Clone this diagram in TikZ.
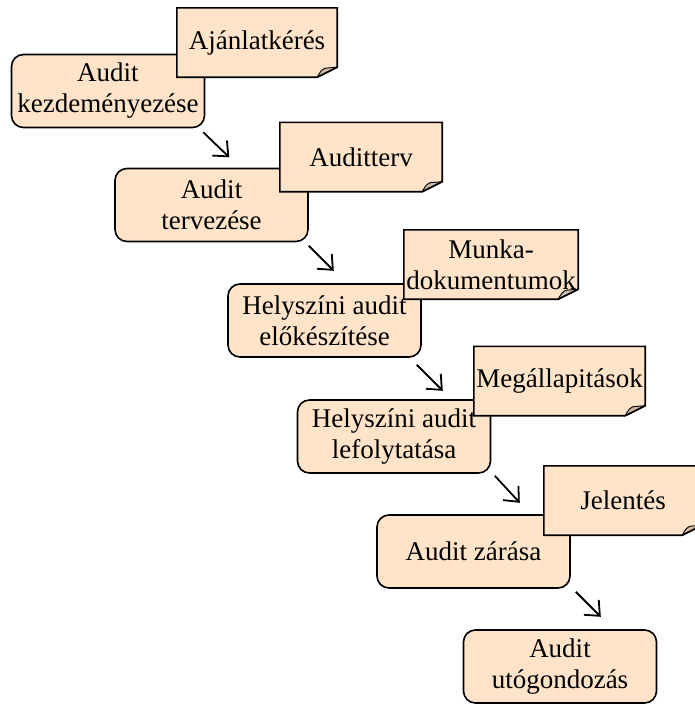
\documentclass[tikz,border=0pt]{standalone}
\usepackage{fontspec}
\setmainfont{Liberation Serif}
\usetikzlibrary{calc,arrows.meta}

\definecolor{peach}{HTML}{FFE4C9}
\definecolor{flapc}{HTML}{CDBBA8}

\pgfdeclarelayer{docframe}
\pgfdeclarelayer{doctext}
\pgfsetlayers{main,docframe,doctext}

\tikzset{
  every node/.style={font=\fontsize{27}{31}\selectfont, align=center, inner sep=0pt},
  proc/.style={draw=black, line width=1.6pt, fill=peach, rounded corners=12pt,
    minimum width=193pt, minimum height=73pt},
  doc/.style={minimum height=69pt},
  docline/.style={draw=black, line width=1.6pt, fill=peach, line join=miter},
  flap/.style={draw=black, line width=0.9pt, fill=flapc, line join=round},
  flow/.style={draw=black, line width=1.8pt, -{Straight Barb[length=12pt,width=21pt,line width=1.8pt]}}
}

% document sheet with a curled bottom-right corner, drawn round a node
\newcommand\docframe[1]{%
  \path[docline] (#1.north west) -- (#1.north east)
    -- ($(#1.south east)+(0,-10)$) -- ($(#1.south east)+(-20,0)$)
    -- (#1.south west) -- cycle;
  \path[flap] ($(#1.south east)+(-20,0)$)
    .. controls ($(#1.south east)+(-16,-7)$) .. ($(#1.south east)+(-12,-9)$)
    -- ($(#1.south east)+(0,-10)$) -- cycle;
  \draw[line width=1.6pt] ($(#1.south east)+(0,-10)$) -- ($(#1.south east)+(-20,0)$);
}

\begin{document}
\begin{tikzpicture}[x=1pt,y=-1pt]
\useasboundingbox (0,0) rectangle (695,704);
\clip (0,0) rectangle (695,704);

% process steps
\node[proc] (p1) at (108,91)      {Audit\\kezdeményezése};
\node[proc] (p2) at (211.5,205)   {Audit\\tervezése};
\node[proc] (p3) at (324.5,320.5) {Helyszíni audit\\előkészítése};
\node[proc] (p4) at (394,436.5)   {Helyszíni audit\\lefolytatása};
\node[proc] (p5) at (473.5,551.5) {Audit zárása};
\node[proc] (p6) at (560,666.5)   {Audit\\utógondozás};

% output documents
\begin{pgfonlayer}{doctext}
\node[doc, minimum width=160pt] (d1) at (257,42.5)   {Ajánlatkérés};
\node[doc, minimum width=162pt] (d2) at (361,157)    {Auditterv};
\node[doc, minimum width=174pt] (d3) at (491,264.5)  {Munka-\\dokumentumok};
\node[doc, minimum width=171pt] (d4) at (559.5,381)  {Megállapitások};
\node[doc, minimum width=158pt] (d5) at (623,500.5)  {Jelentés};
\end{pgfonlayer}
\begin{pgfonlayer}{docframe}
\docframe{d1}
\docframe{d2}
\docframe{d3}
\docframe{d4}
\docframe{d5}
\end{pgfonlayer}

% flow between steps
\draw[flow] ($(p1.south east)+(-2,4)$) -- ++(26,25);
\draw[flow] ($(p2.south east)+(0,3.5)$) -- ++(25,25);
\draw[flow] ($(p3.south east)+(-5,7)$) -- ++(26,26);
\draw[flow] ($(p4.south east)+(3.5,2)$) -- ++(25,27);
\draw[flow] ($(p5.south east)+(5,3)$) -- ++(25,25);
\end{tikzpicture}
\end{document}
